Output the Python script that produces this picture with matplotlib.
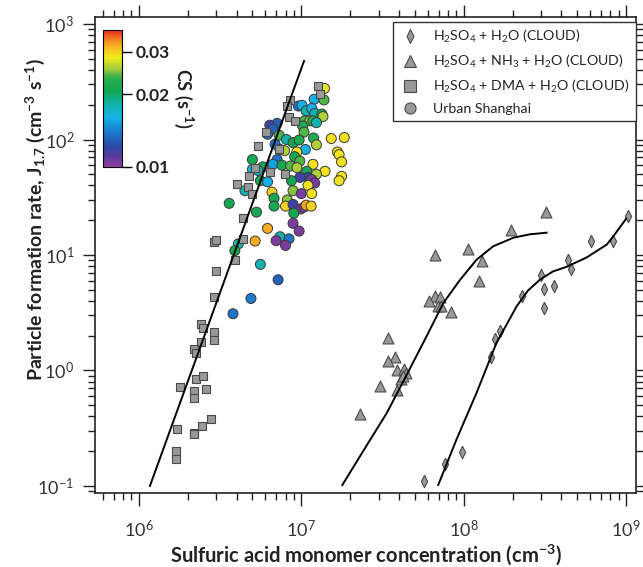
import numpy as np
import matplotlib.pyplot as plt
from matplotlib.colors import LinearSegmentedColormap, LogNorm
from matplotlib.lines import Line2D
from matplotlib.ticker import LogLocator, NullFormatter, NullLocator

plt.rcParams['font.family'] = ['Lato', 'DejaVu Sans']
plt.rcParams['mathtext.default'] = 'regular'

# CLOUD chamber: H2SO4 + DMA + H2O
dma_conc = [1.26e7, 1.30e7, 8.5e6, 8.2e6, 8.4e6, 9.1e6, 6.1e6, 5.4e6, 7.3e6, 5.2e6,
            6.4e6, 4.8e6, 7.9e6, 4.0e6, 4.7e6, 5.0e6, 4.4e6, 2.9e6, 3.0e6, 4.4e6,
            3.9e6, 3.0e6, 2.9e6, 2.4e6, 2.5e6, 2.9e6, 2.9e6, 2.4e6, 2.2e6, 2.25e6,
            2.25e6, 2.5e6, 1.8e6, 2.2e6, 2.2e6, 2.6e6, 2.8e6, 2.45e6, 1.73e6, 2.2e6,
            2.2e6, 1.70e6, 1.70e6]
dma_j = [290, 250, 220, 195, 158, 145, 115, 87, 82, 57,
         52, 48, 50, 41, 39, 34, 21, 12.9, 13.6, 13.8,
         9.1, 7.2, 4.3, 2.55, 2.33, 2.14, 1.85, 1.77, 1.53, 1.42,
         0.85, 0.89, 0.72, 0.67, 0.58, 0.69, 0.38, 0.33, 0.31, 0.29,
         0.28, 0.20, 0.17]

# CLOUD chamber: H2SO4 + NH3 + H2O
nh3_conc = [3.2e8, 1.95e8, 1.06e8, 6.7e7, 1.30e8, 1.24e8, 6.7e7, 7.1e7, 6.1e7, 6.9e7,
            7.3e7, 8.3e7, 3.4e7, 3.8e7, 3.4e7, 3.9e7, 4.3e7, 4.4e7, 4.1e7, 4.2e7,
            3.05e7, 3.9e7, 2.3e7]
nh3_j = [23.8, 16.6, 11.2, 9.9, 8.9, 5.9, 4.4, 4.3, 4.0, 3.65,
         3.6, 3.2, 1.90, 1.31, 1.20, 1.0, 1.02, 0.95, 0.84, 0.89,
         0.73, 0.68, 0.42]

# CLOUD chamber: H2SO4 + H2O
h2o_conc = [1.03e9, 6.1e8, 8.3e8, 4.4e8, 4.6e8, 3.0e8, 3.1e8, 3.6e8, 2.3e8, 3.1e8,
            1.67e8, 1.56e8, 1.47e8, 9.8e7, 7.7e7, 5.7e7]
h2o_j = [21.7, 13.2, 13.2, 9.1, 7.6, 6.7, 5.1, 5.4, 4.4, 3.5,
         2.2, 1.87, 1.31, 0.197, 0.154, 0.110]

# Urban Shanghai observations, coloured by condensation sink
sh_conc = [1.20e7, 1.38e7, 9.6e6, 1.01e7, 1.07e7, 1.16e7, 1.21e7, 1.34e7, 1.36e7, 1.05e7,
           1.13e7, 1.18e7, 1.24e7, 7.1e6, 6.4e6, 6.7e6, 1.02e7, 1.04e7, 6.2e6, 7.3e6,
           8.1e6, 8.9e6, 9.7e6, 1.19e7, 1.24e7, 1.53e7, 1.84e7, 6.9e6, 7.4e6, 1.06e7,
           7.9e6, 9.4e6, 1.67e7, 1.71e7, 9.1e6, 7.1e6, 5.0e6, 9.8e6, 1.77e7, 5.8e6,
           6.7e6, 7.6e6, 8.6e6, 9.4e6, 1.18e7, 1.08e7, 1.40e7, 1.24e7, 5.0e6, 5.4e6,
           1.10e7, 9.8e6, 1.16e7, 1.21e7, 1.77e7, 1.71e7, 1.10e7, 5.6e6, 6.2e6, 8.7e6,
           4.5e6, 6.6e6, 8.9e6, 1.0e7, 1.16e7, 6.8e6, 8.2e6, 3.6e6, 6.8e6, 8.0e6,
           8.9e6, 9.9e6, 1.04e7, 1.07e7, 1.15e7, 9.0e6, 5.3e6, 8.9e6, 9.7e6, 6.2e6,
           5.2e6, 7.4e6, 8.4e6, 7.0e6, 8.0e6, 4.1e6, 3.9e6, 5.6e6, 7.2e6, 4.9e6,
           3.8e6, 1.39e7]
sh_j = [223, 220, 195, 198, 177, 186, 168, 166, 158, 145,
        145, 145, 140, 138, 133, 123, 131, 116, 111, 109,
        100, 94, 99, 103, 90, 102, 104, 91, 82, 82,
        80, 78, 78, 74, 71, 67, 67, 65, 64, 58,
        61, 60, 59, 57, 61, 53, 53, 50, 55, 54,
        47, 47, 45, 42, 48, 44, 40, 44, 43, 44,
        36, 35, 36, 34, 34, 31, 30, 28, 26.5, 26.5,
        27.4, 25, 26, 27, 26.5, 23, 23.5, 18.8, 16.1, 17.0,
        13.2, 14.4, 13.8, 13.3, 12.1, 12.5, 10.9, 8.3, 6.1, 4.2,
        3.1, 277]
sh_cs = [0.016, 0.024, 0.0137, 0.016, 0.018, 0.016, 0.018, 0.022, 0.026, 0.024,
         0.025, 0.023, 0.018, 0.013, 0.0117, 0.013, 0.022, 0.024, 0.0137, 0.024,
         0.018, 0.021, 0.022, 0.022, 0.026, 0.029, 0.029, 0.0137, 0.016, 0.016,
         0.026, 0.029, 0.029, 0.029, 0.021, 0.0137, 0.021, 0.024, 0.029, 0.021,
         0.0155, 0.021, 0.024, 0.026, 0.029, 0.021, 0.029, 0.026, 0.016, 0.017,
         0.012, 0.0117, 0.0105, 0.0105, 0.029, 0.029, 0.029, 0.021, 0.016, 0.021,
         0.018, 0.030, 0.025, 0.0105, 0.029, 0.021, 0.025, 0.021, 0.021, 0.030,
         0.0117, 0.0104, 0.0104, 0.032, 0.030, 0.021, 0.021, 0.0104, 0.0104, 0.032,
         0.032, 0.018, 0.0137, 0.0104, 0.0104, 0.018, 0.021, 0.018, 0.013, 0.014,
         0.0137, 0.028]

# fitted curves
dma_fit_conc = [1.17e6, 1.04e7]
dma_fit_j = [0.1, 478]
nh3_fit_conc = [1.79e7, 2.5e7, 3.36e7, 4.46e7, 5.9e7, 7.5e7, 9.5e7, 1.20e8, 1.52e8,
                2.02e8, 2.55e8, 3.24e8]
nh3_fit_j = [0.102, 0.219, 0.428, 0.918, 1.97, 3.85, 6.1, 9.1, 11.9, 14.1, 15.1, 15.6]
h2o_fit_conc = [6.97e7, 9.0e7, 1.20e8, 1.59e8, 2.12e8, 2.48e8, 2.94e8, 3.54e8, 4.3e8,
                5.7e8, 7.6e8, 8.6e8, 1.0e9]
h2o_fit_j = [0.102, 0.25, 0.64, 1.73, 3.6, 4.9, 6.1, 7.2, 7.9, 9.5, 12.3, 15.4, 20.6]

cs_ticks = [0.01, 0.02, 0.03]
legend_labels = ['H$_2$SO$_4$ + H$_2$O (CLOUD)',
                 'H$_2$SO$_4$ + NH$_3$ + H$_2$O (CLOUD)',
                 'H$_2$SO$_4$ + DMA + H$_2$O (CLOUD)',
                 'Urban Shanghai']

rainbow = LinearSegmentedColormap.from_list('cs_rainbow', [
    (0.00, '#8e3f9f'), (0.08, '#5a3a9e'), (0.15, '#2a4aa8'), (0.25, '#1b78cc'),
    (0.36, '#14b2e6'), (0.45, '#12b3b0'), (0.55, '#10a654'), (0.65, '#2aae4a'),
    (0.72, '#a6cc3c'), (0.80, '#f2ec1c'), (0.88, '#f8b421'), (0.94, '#f07a22'),
    (1.00, '#e8261e')])

# narrow diamond for the binary H2SO4-H2O runs
thin_diamond = [(0, 1), (0.5, 0), (0, -1), (-0.5, 0), (0, 1)]

fig = plt.figure(figsize=(6.43, 5.67), dpi=100)
ax = fig.add_axes([0.1477, 0.1305, 0.8414, 0.8395])

gray = '#999999'
edge = '#4a4a4a'

sc = ax.scatter(sh_conc, sh_j, c=sh_cs, cmap=rainbow, norm=LogNorm(0.01, 0.037),
                s=52, marker='o', edgecolors='#3a3a3a', linewidths=0.7, zorder=3)
ax.scatter(dma_conc, dma_j, s=40, marker='s', color=gray, edgecolors=edge,
           linewidths=0.8, zorder=4)
ax.scatter(nh3_conc, nh3_j, s=62, marker='^', color=gray, edgecolors=edge,
           linewidths=0.8, zorder=4)
ax.scatter(h2o_conc, h2o_j, s=80, marker=thin_diamond, color=gray, edgecolors=edge,
           linewidths=0.8, zorder=4)

ax.plot(dma_fit_conc, dma_fit_j, color='black', lw=1.4, zorder=5)
ax.plot(nh3_fit_conc, nh3_fit_j, color='black', lw=1.4, zorder=5)
ax.plot(h2o_fit_conc, h2o_fit_j, color='black', lw=1.4, zorder=5)

ax.set_xscale('log')
ax.set_yscale('log')
ax.set_xlim(5.37e5, 1.15e9)
ax.set_ylim(0.0869, 1.15e3)

for a in (ax.xaxis, ax.yaxis):
    a.set_major_locator(LogLocator(base=10, numticks=12))
    a.set_minor_locator(LogLocator(base=10, subs=np.arange(2, 10), numticks=12))
    a.set_minor_formatter(NullFormatter())
ax.tick_params(which='both', direction='out', top=True, right=True,
               color='#222222', width=1.0, labelcolor='#333333', labelsize=13)
ax.tick_params(which='major', length=9)
ax.tick_params(which='minor', length=5)
ax.tick_params(axis='x', which='major', pad=10)
ax.tick_params(axis='y', which='major', pad=6)
for sp in ax.spines.values():
    sp.set_linewidth(1.2)
    sp.set_color('#222222')

ax.set_xlabel('Sulfuric acid monomer concentration (cm$^{-3}$)',
              fontsize=14.5, fontweight='bold', color='#222222', va='baseline')
ax.xaxis.set_label_coords(0.5, -0.1447)
ax.set_ylabel('Particle formation rate, J$_{1.7}$ (cm$^{-3}$ s$^{-1}$)',
              fontsize=14, fontweight='bold', color='#222222', va='center')
ax.yaxis.set_label_coords(-0.11, 0.575)

handles = [
    Line2D([], [], ls='none', marker=thin_diamond, ms=10, mfc=gray, mec=edge, mew=0.8),
    Line2D([], [], ls='none', marker='^', ms=9, mfc=gray, mec=edge, mew=0.8),
    Line2D([], [], ls='none', marker='s', ms=8, mfc=gray, mec=edge, mew=0.8),
    Line2D([], [], ls='none', marker='o', ms=8, mfc=gray, mec=edge, mew=0.8),
]
leg = ax.legend(handles, legend_labels, loc='upper right',
                bbox_to_anchor=(1.0, 0.99), borderaxespad=0, fontsize=10.2,
                frameon=True, fancybox=False, framealpha=1, edgecolor='#333333',
                handletextpad=0.9, labelspacing=0.55, borderpad=0.45,
                handlelength=1.5)
leg.get_frame().set_linewidth(1.0)
for t in leg.get_texts():
    t.set_color('#222222')

# condensation sink colour bar
cax = fig.add_axes([0.160, 0.7055, 0.0296, 0.2416])
cb = fig.colorbar(sc, cax=cax)
cb.set_ticks(cs_ticks)
cb.set_ticklabels(['%.2f' % v for v in cs_ticks])
cax.yaxis.set_minor_locator(NullLocator())
cax.tick_params(which='major', length=7, width=1.0, labelsize=12.5,
                labelcolor='#222222', pad=3)
for t in cax.get_yticklabels():
    t.set_fontweight('bold')
cb.outline.set_linewidth(0.8)
cb.set_label('CS (s$^{-1}$)', rotation=270, fontsize=13, fontweight='bold',
             labelpad=18, color='#222222')

fig.savefig('out.png', dpi=100)
